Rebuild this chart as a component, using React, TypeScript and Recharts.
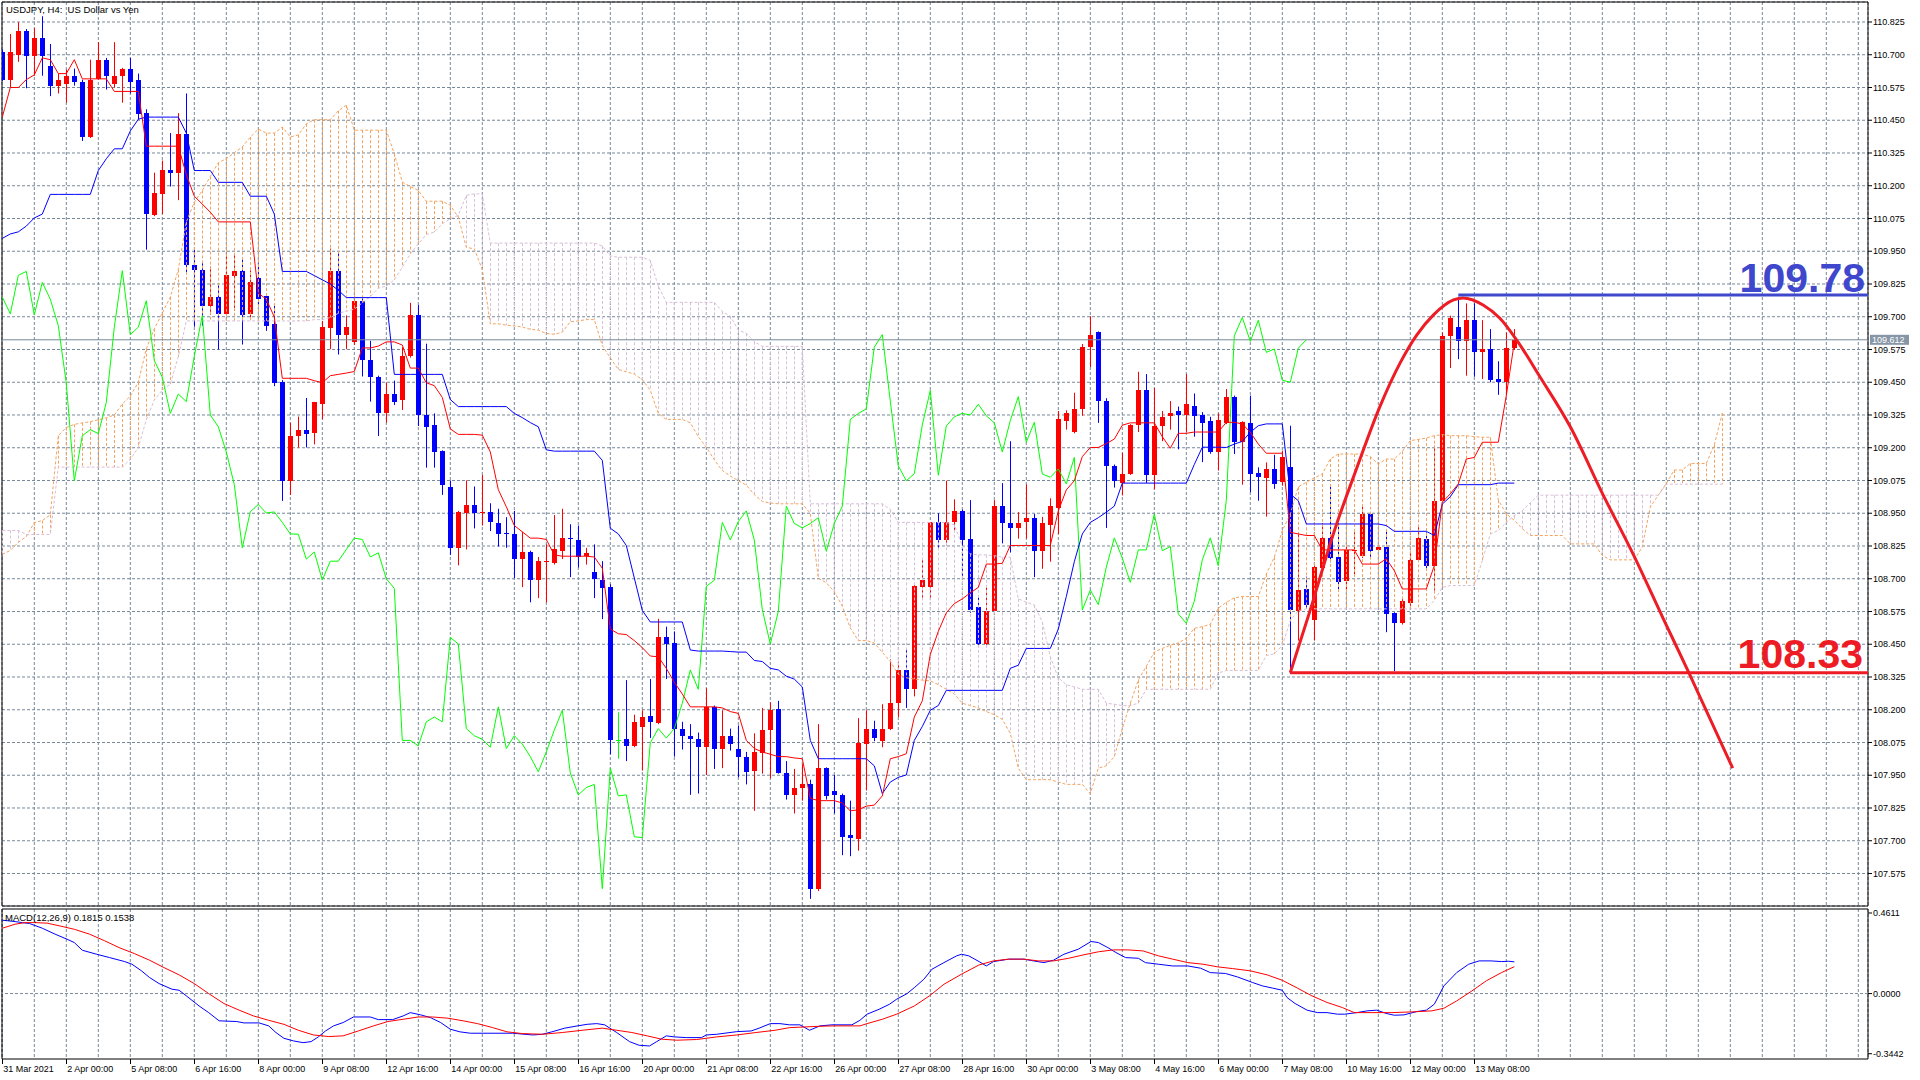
import React from "react";
import {
  Bar,
  CartesianGrid,
  ComposedChart,
  Line,
  ReferenceArea,
  ReferenceLine,
  XAxis,
  YAxis,
} from "recharts";

// USDJPY H4 candles, bar index 0 = 31 Mar 2021
const open = [
  110.711, 110.605, 110.699, 110.789, 110.696, 110.764, 110.658, 110.582, 110.59, 110.62,
  110.597, 110.386, 110.608, 110.681, 110.587, 110.617, 110.647, 110.602, 110.477, 110.089,
  110.17, 110.261, 110.247, 110.398, 109.899, 109.88, 109.742, 109.775, 109.711, 109.855,
  109.873, 109.711, 109.846, 109.778, 109.672, 109.45, 109.073, 109.246, 109.269, 109.256,
  109.368, 109.657, 109.876, 109.632, 109.604, 109.761, 109.533, 109.469, 109.331, 109.405,
  109.384, 109.549, 109.705, 109.325, 109.288, 109.187, 109.052, 108.818, 108.951, 108.983,
  108.95, 108.956, 108.911, 108.876, 108.871, 108.775, 108.802, 108.695, 108.763, 108.759,
  108.807, 108.857, 108.847, 108.786, 108.727, 108.695, 108.668, 108.083, 108.087, 108.062,
  108.136, 108.175, 108.151, 108.476, 108.455, 108.128, 108.101, 108.087, 108.057, 108.211,
  108.052, 108.101, 108.052, 108.021, 107.968, 108.034, 108.122, 108.204, 107.959, 107.875,
  107.903, 107.915, 107.514, 107.977, 107.889, 107.875, 107.721, 107.708, 108.069, 108.128,
  108.08, 108.128, 108.225, 108.352, 108.278, 108.667, 108.667, 108.915, 108.848, 108.918,
  108.959, 108.853, 108.593, 108.451, 108.575, 108.977, 108.911, 108.894, 108.918, 108.933,
  108.805, 108.906, 108.971, 109.301, 109.26, 109.348, 109.584, 109.64, 109.378, 109.131,
  109.065, 109.101, 109.287, 109.419, 109.095, 109.283, 109.322, 109.34, 109.325, 109.361,
  109.325, 109.301, 109.184, 109.293, 109.395, 109.221, 109.293, 109.102, 109.085, 109.119,
  109.068, 109.125, 108.578, 108.661, 108.543, 108.741, 108.856, 108.784, 108.69, 108.807,
  108.788, 108.947, 108.81, 108.823, 108.568, 108.53, 108.606, 108.772, 108.852, 108.75,
  108.998, 109.627, 109.662, 109.606, 109.687, 109.564, 109.577, 109.462, 109.45, 109.58,
];
const high = [
  110.72, 110.779, 110.824, 110.798, 110.801, 110.847, 110.741, 110.628, 110.643, 110.647,
  110.605, 110.681, 110.748, 110.688, 110.748, 110.65, 110.688, 110.628, 110.492, 110.25,
  110.296, 110.401, 110.477, 110.552, 109.956, 109.911, 109.892, 109.828, 109.941, 109.941,
  109.926, 109.877, 109.903, 109.79, 109.745, 109.458, 109.295, 109.319, 109.39, 109.375,
  109.684, 109.96, 109.95, 109.705, 109.765, 109.77, 109.608, 109.475, 109.448, 109.456,
  109.584, 109.753, 109.745, 109.597, 109.331, 109.19, 109.075, 108.959, 109.075, 109.052,
  109.096, 108.988, 108.967, 108.935, 108.959, 108.879, 108.807, 108.783, 108.831, 108.943,
  108.967, 108.908, 108.903, 108.818, 108.831, 108.767, 108.679, 108.19, 108.313, 108.181,
  108.198, 108.317, 108.547, 108.517, 108.499, 108.154, 108.145, 108.113, 108.282, 108.216,
  108.198, 108.128, 108.14, 108.039, 108.11, 108.207, 108.228, 108.234, 108.004, 107.974,
  107.991, 107.933, 108.145, 107.98, 107.951, 107.88, 107.853, 108.168, 108.198, 108.158,
  108.221, 108.393, 108.384, 108.428, 108.676, 108.773, 108.915, 108.95, 109.074, 109.003,
  108.964, 109.0, 108.632, 108.667, 109.0, 109.065, 109.225, 108.954, 109.06, 108.947,
  108.936, 109.007, 109.34, 109.343, 109.41, 109.596, 109.702, 109.644, 109.389, 109.136,
  109.18, 109.29, 109.49, 109.481, 109.428, 109.34, 109.378, 109.357, 109.481, 109.407,
  109.336, 109.318, 109.331, 109.424, 109.399, 109.301, 109.399, 109.125, 109.144, 109.173,
  109.189, 109.284, 108.877, 108.708, 108.754, 108.912, 109.051, 108.912, 108.833, 108.877,
  108.979, 108.954, 108.825, 108.89, 108.572, 108.623, 108.807, 108.899, 108.877, 109.208,
  109.64, 109.704, 109.776, 109.751, 109.751, 109.687, 109.653, 109.53, 109.64, 109.653,
];
const low = [
  110.6, 110.575, 110.673, 110.572, 110.62, 110.62, 110.542, 110.552, 110.517, 110.582,
  110.371, 110.382, 110.605, 110.567, 110.575, 110.517, 110.552, 110.454, 109.956, 110.084,
  110.092, 110.197, 110.145, 109.865, 109.662, 109.666, 109.707, 109.575, 109.708, 109.722,
  109.594, 109.687, 109.745, 109.646, 109.435, 108.997, 109.02, 109.201, 109.201, 109.213,
  109.309, 109.576, 109.556, 109.576, 109.592, 109.472, 109.376, 109.245, 109.296, 109.363,
  109.344, 109.544, 109.283, 109.124, 109.124, 109.02, 108.791, 108.751, 108.812, 108.892,
  108.903, 108.882, 108.823, 108.818, 108.703, 108.668, 108.61, 108.626, 108.61, 108.754,
  108.775, 108.706, 108.743, 108.754, 108.626, 108.546, 108.03, 108.013, 108.004, 108.057,
  107.968, 108.092, 108.145, 108.317, 108.021, 108.048, 107.875, 107.88, 107.951, 107.974,
  107.977, 108.044, 107.942, 107.915, 107.814, 107.956, 107.938, 107.956, 107.857, 107.804,
  107.853, 107.478, 107.508, 107.857, 107.804, 107.645, 107.641, 107.662, 107.892, 108.08,
  108.057, 108.122, 108.172, 108.207, 108.251, 108.623, 108.623, 108.818, 108.827, 108.88,
  108.706, 108.57, 108.446, 108.441, 108.57, 108.835, 108.8, 108.853, 108.853, 108.706,
  108.738, 108.765, 108.871, 109.269, 109.255, 109.322, 109.508, 109.295, 108.894, 109.048,
  109.018, 109.096, 109.26, 109.065, 109.042, 109.225, 109.269, 109.194, 109.26, 109.242,
  109.145, 109.177, 109.113, 109.29, 109.176, 109.059, 109.03, 108.998, 108.937, 109.043,
  109.055, 108.337, 108.464, 108.585, 108.464, 108.737, 108.763, 108.652, 108.655, 108.718,
  108.779, 108.782, 108.807, 108.496, 108.347, 108.525, 108.585, 108.769, 108.731, 108.655,
  108.992, 109.504, 109.538, 109.475, 109.471, 109.462, 109.45, 109.402, 109.399, 109.573,
];
const close = [
  110.605, 110.711, 110.789, 110.696, 110.764, 110.696, 110.582, 110.602, 110.62, 110.597,
  110.386, 110.605, 110.681, 110.617, 110.62, 110.647, 110.597, 110.472, 110.092, 110.172,
  110.261, 110.247, 110.398, 109.899, 109.877, 109.742, 109.775, 109.711, 109.858, 109.873,
  109.707, 109.831, 109.767, 109.666, 109.446, 109.073, 109.246, 109.269, 109.254, 109.373,
  109.66, 109.876, 109.632, 109.66, 109.761, 109.533, 109.469, 109.331, 109.405, 109.376,
  109.549, 109.705, 109.325, 109.28, 109.184, 109.059, 108.818, 108.956, 108.983, 108.951,
  108.955, 108.915, 108.871, 108.87, 108.775, 108.802, 108.695, 108.767, 108.767, 108.812,
  108.855, 108.85, 108.783, 108.799, 108.7, 108.663, 108.083, 108.083, 108.062, 108.154,
  108.172, 108.154, 108.476, 108.451, 108.128, 108.101, 108.087, 108.057, 108.211, 108.052,
  108.101, 108.069, 108.021, 107.963, 108.039, 108.122, 108.198, 107.959, 107.875, 107.903,
  107.915, 107.517, 107.977, 107.871, 107.875, 107.715, 107.712, 108.074, 108.128, 108.092,
  108.128, 108.225, 108.352, 108.278, 108.671, 108.694, 108.915, 108.848, 108.918, 108.959,
  108.848, 108.582, 108.451, 108.575, 108.977, 108.911, 108.894, 108.911, 108.933, 108.805,
  108.911, 108.977, 109.308, 109.331, 109.348, 109.584, 109.632, 109.378, 109.131, 109.074,
  109.101, 109.287, 109.419, 109.095, 109.283, 109.318, 109.331, 109.325, 109.366, 109.322,
  109.295, 109.184, 109.304, 109.395, 109.221, 109.297, 109.1, 109.087, 109.119, 109.062,
  109.163, 108.581, 108.657, 108.601, 108.744, 108.856, 108.779, 108.686, 108.81, 108.81,
  108.947, 108.807, 108.823, 108.566, 108.53, 108.614, 108.772, 108.856, 108.75, 108.998,
  109.627, 109.697, 109.606, 109.687, 109.564, 109.577, 109.458, 109.45, 109.58, 109.612,
];

// Ichimoku lines as drawn
const tenkan = [
  110.462, 110.575, 110.575, 110.605, 110.623, 110.688, 110.681, 110.628, 110.628, 110.681,
  110.608, 110.608, 110.608, 110.608, 110.56, 110.56, 110.56, 110.56, 110.351, 110.351,
  110.351, 110.351, 110.351, 110.243, 110.16, 110.13, 110.099, 110.062, 110.062, 110.062,
  110.062, 110.062, 109.79, 109.767, 109.699, 109.465, 109.465, 109.465, 109.465, 109.456,
  109.448, 109.475, 109.48, 109.485, 109.491, 109.581, 109.581, 109.588, 109.604, 109.604,
  109.592, 109.504, 109.504, 109.448, 109.437, 109.392, 109.272, 109.251, 109.251, 109.251,
  109.248, 109.184, 109.04, 108.975, 108.903, 108.879, 108.855, 108.855, 108.85, 108.791,
  108.786, 108.786, 108.786, 108.786, 108.783, 108.74, 108.508, 108.49, 108.487, 108.464,
  108.437, 108.405, 108.402, 108.358, 108.305, 108.26, 108.211, 108.211, 108.211, 108.211,
  108.207, 108.193, 108.186, 108.083, 108.052, 108.039, 108.03, 108.021, 108.021, 108.016,
  108.013, 107.862, 107.853, 107.853, 107.853, 107.844, 107.814, 107.818, 107.832, 107.836,
  107.871, 108.013, 108.021, 108.032, 108.172, 108.234, 108.411, 108.499, 108.57, 108.605,
  108.623, 108.646, 108.667, 108.756, 108.756, 108.759, 108.827, 108.827, 108.827, 108.827,
  108.827, 108.827, 108.959, 109.039, 109.074, 109.166, 109.201, 109.201, 109.216, 109.233,
  109.286, 109.295, 109.295, 109.295, 109.295, 109.242, 109.198, 109.255, 109.255, 109.26,
  109.26, 109.26, 109.26, 109.297, 109.297, 109.291, 109.259, 109.214, 109.179, 109.179,
  109.179, 108.877, 108.871, 108.865, 108.865, 108.81, 108.81, 108.81, 108.81, 108.81,
  108.756, 108.756, 108.756, 108.776, 108.731, 108.661, 108.661, 108.661, 108.661, 108.75,
  108.992, 109.024, 109.062, 109.157, 109.163, 109.221, 109.221, 109.221, 109.399, 109.602,
];
const kijun = [
  109.999, 110.016, 110.024, 110.046, 110.077, 110.092, 110.167, 110.167, 110.167, 110.167,
  110.167, 110.167, 110.258, 110.303, 110.341, 110.341, 110.409, 110.454, 110.462, 110.462,
  110.462, 110.462, 110.462, 110.401, 110.258, 110.258, 110.258, 110.213, 110.213, 110.213,
  110.213, 110.16, 110.16, 110.16, 110.092, 109.873, 109.873, 109.873, 109.873, 109.857,
  109.841, 109.825, 109.801, 109.773, 109.773, 109.773, 109.773, 109.773, 109.773, 109.48,
  109.48, 109.48, 109.48, 109.48, 109.48, 109.48, 109.384, 109.357, 109.357, 109.357,
  109.357, 109.357, 109.357, 109.357, 109.331, 109.315, 109.296, 109.28, 109.192, 109.187,
  109.187, 109.187, 109.187, 109.187, 109.187, 109.152, 108.893, 108.871, 108.827, 108.703,
  108.579, 108.535, 108.535, 108.535, 108.535, 108.535, 108.428, 108.424, 108.424, 108.424,
  108.424, 108.422, 108.42, 108.42, 108.388, 108.384, 108.358, 108.352, 108.328, 108.317,
  108.287, 108.083, 108.013, 108.013, 108.013, 108.013, 108.013, 108.013, 108.013, 107.986,
  107.88, 107.924, 107.942, 107.951, 108.083, 108.136, 108.198, 108.216, 108.274, 108.274,
  108.274, 108.274, 108.274, 108.274, 108.274, 108.274, 108.358, 108.37, 108.434, 108.434,
  108.434, 108.434, 108.508, 108.632, 108.765, 108.871, 108.915, 108.933, 108.954, 108.977,
  109.065, 109.065, 109.065, 109.065, 109.065, 109.065, 109.065, 109.065, 109.065, 109.136,
  109.202, 109.202, 109.202, 109.201, 109.214, 109.224, 109.259, 109.284, 109.291, 109.291,
  109.291, 109.023, 108.998, 108.909, 108.909, 108.909, 108.909, 108.909, 108.909, 108.909,
  108.909, 108.909, 108.909, 108.903, 108.881, 108.881, 108.881, 108.881, 108.881, 108.865,
  108.985, 109.013, 109.059, 109.059, 109.059, 109.059, 109.059, 109.065, 109.065, 109.065,
];
// Senkou spans run 26 bars past the last candle
const spanA = [
  108.793, 108.808, 108.839, 108.861, 108.914, 108.922, 108.944, 109.246, 109.277, 109.289,
  109.295, 109.299, 109.307, 109.314, 109.325, 109.367, 109.397, 109.45, 109.578, 109.654,
  109.714, 109.775, 109.88, 110.062, 110.137, 110.182, 110.235, 110.288, 110.303, 110.326,
  110.348, 110.386, 110.416, 110.401, 110.401, 110.424, 110.386, 110.394, 110.436, 110.452,
  110.452, 110.452, 110.486, 110.507, 110.412, 110.412, 110.412, 110.412, 110.412, 110.322,
  110.214, 110.197, 110.182, 110.141, 110.141, 110.141, 110.125, 110.08, 109.965, 109.959,
  109.88, 109.673, 109.673, 109.668, 109.665, 109.661, 109.652, 109.649, 109.636, 109.633,
  109.641, 109.681, 109.684, 109.689, 109.689, 109.59, 109.543, 109.499, 109.49, 109.481,
  109.46, 109.419, 109.331, 109.308, 109.308, 109.308, 109.295, 109.242, 109.202, 109.154,
  109.113, 109.092, 109.074, 109.057, 109.021, 108.995, 108.989, 108.986, 108.986, 108.986,
  108.986, 108.95, 108.702, 108.685, 108.65, 108.596, 108.512, 108.464, 108.464, 108.455,
  108.419, 108.384, 108.335, 108.322, 108.317, 108.313, 108.31, 108.296, 108.278, 108.26,
  108.225, 108.216, 108.207, 108.193, 108.181, 108.163, 108.11, 107.977, 107.933, 107.933,
  107.933, 107.933, 107.924, 107.915, 107.915, 107.915, 107.88, 107.977, 107.986, 108.021,
  108.128, 108.225, 108.313, 108.366, 108.42, 108.434, 108.446, 108.455, 108.472, 108.511,
  108.517, 108.526, 108.588, 108.61, 108.627, 108.632, 108.632, 108.632, 108.718, 108.782,
  108.884, 108.947, 109.051, 109.068, 109.085, 109.1, 109.157, 109.176, 109.176, 109.176,
  109.176, 109.166, 109.138, 109.157, 109.157, 109.186, 109.227, 109.232, 109.237, 109.246,
  109.25, 109.246, 109.246, 109.246, 109.242, 109.24, 109.24, 109.0, 108.948, 108.923,
  108.891, 108.865, 108.865, 108.865, 108.865, 108.865, 108.833, 108.833, 108.833, 108.833,
  108.789, 108.772, 108.772, 108.772, 108.772, 108.821, 108.974, 109.019, 109.064, 109.115,
  109.115, 109.14, 109.14, 109.14, 109.211, 109.332,
];
const spanB = [
  108.884, 108.884, 108.884, 108.869, 108.869, 108.869, 108.869, 109.126, 109.126, 109.126,
  109.126, 109.126, 109.126, 109.126, 109.126, 109.126, 109.156, 109.201, 109.307, 109.382,
  109.42, 109.443, 109.548, 109.684, 109.684, 109.684, 109.684, 109.684, 109.684, 109.684,
  109.684, 109.684, 109.684, 109.684, 109.684, 109.684, 109.684, 109.684, 109.684, 109.689,
  109.689, 109.697, 109.713, 109.721, 109.729, 109.753, 109.777, 109.809, 109.817, 109.841,
  109.889, 109.94, 109.978, 110.014, 110.023, 110.055, 110.074, 110.087, 110.163, 110.169,
  110.169, 109.981, 109.981, 109.981, 109.981, 109.981, 109.981, 109.981, 109.981, 109.981,
  109.981, 109.981, 109.981, 109.981, 109.981, 109.97, 109.932, 109.927, 109.927, 109.927,
  109.927, 109.915, 109.817, 109.755, 109.755, 109.755, 109.755, 109.755, 109.755, 109.755,
  109.72, 109.702, 109.649, 109.637, 109.605, 109.587, 109.587, 109.587, 109.587, 109.587,
  109.587, 108.986, 108.986, 108.986, 108.986, 108.986, 108.986, 108.986, 108.986, 108.986,
  108.986, 108.964, 108.915, 108.915, 108.915, 108.915, 108.915, 108.915, 108.915, 108.906,
  108.826, 108.795, 108.791, 108.791, 108.788, 108.782, 108.782, 108.623, 108.611, 108.6,
  108.535, 108.402, 108.322, 108.296, 108.287, 108.278, 108.278, 108.278, 108.225, 108.221,
  108.216, 108.216, 108.225, 108.278, 108.278, 108.278, 108.278, 108.278, 108.278, 108.278,
  108.278, 108.278, 108.34, 108.35, 108.35, 108.35, 108.35, 108.35, 108.407, 108.413,
  108.445, 108.54, 108.578, 108.585, 108.585, 108.585, 108.585, 108.585, 108.585, 108.585,
  108.585, 108.585, 108.585, 108.585, 108.585, 108.585, 108.585, 108.585, 108.585, 108.617,
  108.667, 108.674, 108.674, 108.674, 108.674, 108.769, 108.871, 108.884, 108.915, 108.941,
  108.96, 108.99, 109.019, 109.019, 109.019, 109.019, 109.019, 109.019, 109.019, 109.019,
  109.019, 109.019, 109.019, 109.019, 109.019, 109.019, 109.019, 109.019, 109.061, 109.061,
  109.061, 109.061, 109.061, 109.061, 109.061, 109.061,
];

// MACD(12,26,9): [bar, value] vertices
const macdMain = [
  [0, 0.42], [1.6, 0.412], [2.5, 0.406], [3.4, 0.401], [5.0, 0.374], [6.6, 0.34], [8.1, 0.311],
  [9.0, 0.292], [10.0, 0.248], [11.8, 0.225], [13.4, 0.206], [15.3, 0.183], [16.2, 0.168],
  [17.4, 0.13], [18.4, 0.092], [19.6, 0.057], [21.2, 0.025], [22.1, 0.019], [23.0, -0.013],
  [24.6, -0.071], [25.8, -0.109], [27.1, -0.156], [29.3, -0.16], [30.2, -0.168], [32.1, -0.168],
  [33.3, -0.185], [34.2, -0.223], [35.2, -0.256], [36.4, -0.271], [37.6, -0.281], [38.6, -0.275],
  [39.5, -0.248], [40.4, -0.214], [41.4, -0.185], [42.6, -0.166], [43.9, -0.134], [46.0, -0.134],
  [47.0, -0.149], [48.8, -0.149], [50.1, -0.128], [51.0, -0.109], [52.3, -0.122], [53.5, -0.137],
  [54.8, -0.166], [56.0, -0.204], [57.2, -0.219], [58.5, -0.227], [63.8, -0.227], [66.3, -0.237],
  [67.5, -0.233], [68.7, -0.219], [70.3, -0.198], [71.9, -0.185], [73.1, -0.176], [74.3, -0.172],
  [75.3, -0.179], [76.8, -0.223], [78.4, -0.275], [79.6, -0.296], [80.9, -0.3], [81.8, -0.275],
  [83.0, -0.242], [84.0, -0.248], [85.5, -0.252], [87.4, -0.252], [88.0, -0.237], [89.3, -0.233],
  [91.8, -0.218], [93.6, -0.214], [94.6, -0.198], [96.0, -0.172], [97.2, -0.172], [98.4, -0.179],
  [99.7, -0.179], [100.9, -0.21], [102.2, -0.185], [103.7, -0.179], [106.2, -0.179], [107.2, -0.153],
  [108.1, -0.118], [109.6, -0.09], [110.9, -0.061], [111.8, -0.032], [113.1, 0.0], [114.0, 0.034],
  [115.2, 0.082], [116.2, 0.139], [117.7, 0.177], [119.3, 0.216], [119.9, 0.225], [120.8, 0.216],
  [122.1, 0.183], [123.0, 0.158], [123.9, 0.183], [125.8, 0.197], [127.7, 0.197], [128.9, 0.187],
  [130.2, 0.177], [131.4, 0.191], [132.7, 0.225], [134.5, 0.254], [136.1, 0.298], [137.0, 0.292],
  [138.2, 0.263], [139.2, 0.235], [140.4, 0.206], [142.0, 0.202], [142.9, 0.177], [144.5, 0.168],
  [146.3, 0.158], [148.2, 0.158], [149.8, 0.145], [151.0, 0.12], [152.9, 0.115], [154.4, 0.095],
  [156.3, 0.063], [157.5, 0.044], [158.8, 0.031], [160.0, 0.019], [160.6, -0.023], [161.6, -0.057],
  [163.1, -0.095], [164.4, -0.109], [165.6, -0.109], [166.9, -0.118], [167.8, -0.118], [169.3, -0.109],
  [170.6, -0.099], [171.8, -0.095], [173.1, -0.115], [174.0, -0.124], [175.2, -0.122], [176.8, -0.103],
  [178.0, -0.095], [179.0, -0.061], [180.2, 0.044], [181.8, 0.12], [183.3, 0.168], [184.6, 0.187],
  [186.1, 0.187], [187.4, 0.183], [188.3, 0.185], [189, 0.1815],
];
const macdSignal = [
  [0, 0.374], [1.6, 0.397], [2.8, 0.406], [4.1, 0.406], [5.6, 0.403], [7.2, 0.387], [9.0, 0.368],
  [10.9, 0.34], [12.8, 0.302], [14.6, 0.263], [16.5, 0.229], [18.4, 0.191], [20.2, 0.149],
  [22.1, 0.107], [24.0, 0.057], [25.8, 0.0], [27.7, -0.057], [29.6, -0.095], [31.4, -0.128],
  [33.3, -0.153], [35.2, -0.176], [37.0, -0.21], [38.9, -0.237], [40.8, -0.246], [42.6, -0.242],
  [44.5, -0.214], [46.4, -0.185], [48.2, -0.16], [50.1, -0.147], [52.0, -0.134], [53.8, -0.134],
  [55.7, -0.141], [57.6, -0.156], [59.4, -0.172], [61.3, -0.195], [63.1, -0.219], [65.0, -0.229],
  [67.5, -0.233], [70.0, -0.223], [72.5, -0.21], [75.0, -0.198], [76.8, -0.21], [78.7, -0.223],
  [80.6, -0.242], [82.4, -0.261], [84.3, -0.267], [86.8, -0.263], [89.3, -0.248], [91.8, -0.237],
  [94.2, -0.223], [96.6, -0.21], [98.4, -0.195], [100.3, -0.191], [102.2, -0.187], [104.0, -0.185],
  [107.2, -0.185], [108.1, -0.172], [110.0, -0.147], [111.8, -0.118], [114.0, -0.071], [115.9, -0.013],
  [117.7, 0.053], [119.9, 0.111], [122.1, 0.164], [123.9, 0.187], [125.8, 0.197], [127.7, 0.197],
  [129.5, 0.187], [131.4, 0.187], [133.3, 0.202], [135.1, 0.221], [137.0, 0.239], [138.9, 0.25],
  [140.7, 0.25], [142.6, 0.244], [144.5, 0.216], [146.3, 0.197], [148.2, 0.177], [150.1, 0.168],
  [151.9, 0.153], [153.8, 0.143], [156.0, 0.13], [158.1, 0.107], [160.0, 0.076], [161.9, 0.031],
  [163.7, -0.013], [165.6, -0.051], [167.5, -0.08], [169.0, -0.109], [171.2, -0.109], [173.7, -0.109],
  [176.2, -0.105], [178.7, -0.099], [180.2, -0.084], [181.8, -0.042], [183.7, 0.015], [185.5, 0.073],
  [187.4, 0.12], [189, 0.1538],
];

// hand-drawn arc: [bar, price]
const arcPoints = [
  [161.0, 108.341], [163.5, 108.581], [166.4, 108.873], [169.3, 109.122], [172.2, 109.357],
  [174.7, 109.522], [176.8, 109.63], [178.9, 109.707], [181.4, 109.764], [182.6, 109.772],
  [185.1, 109.745], [187.2, 109.694], [189.3, 109.611], [192.2, 109.471], [196.0, 109.28],
  [200.1, 109.02], [203.9, 108.791], [207.6, 108.549], [210.8, 108.343], [216.3, 107.977],
];

const xLabels = [
  "31 Mar 2021", "2 Apr 00:00", "5 Apr 08:00", "6 Apr 16:00", "8 Apr 00:00", "9 Apr 08:00",
  "12 Apr 16:00", "14 Apr 00:00", "15 Apr 08:00", "16 Apr 16:00", "20 Apr 00:00", "21 Apr 08:00",
  "22 Apr 16:00", "26 Apr 00:00", "27 Apr 08:00", "28 Apr 16:00", "30 Apr 00:00", "3 May 08:00",
  "4 May 16:00", "6 May 00:00", "7 May 08:00", "10 May 16:00", "12 May 00:00", "13 May 08:00",
];
const priceTicks = [
  107.575, 107.7, 107.825, 107.95, 108.075, 108.2, 108.325, 108.45, 108.575, 108.7, 108.825,
  108.95, 109.075, 109.2, 109.325, 109.45, 109.575, 109.7, 109.825, 109.95, 110.075, 110.2,
  110.325, 110.45, 110.575, 110.7, 110.825,
];
const macdTicks = [0.4611, 0, -0.3442];

const lastPrice = 109.612;
const resistance = { value: 109.783, from: 182, label: "109.78" };
const support = { value: 108.341, from: 161, label: "108.33" };

const CHIKOU_SHIFT = 26;
const LABEL_STEP = 8;
const GRID_STEP = 4;
const X_DOMAIN: [number, number] = [-0.0375, 233.2125];
const PRICE_DOMAIN: [number, number] = [107.4509, 110.9013];
const MACD_DOMAIN: [number, number] = [-0.3745, 0.484];

const FONT = "'Liberation Sans', Arial, sans-serif";
const GRID = "#778899";
const UP = "#ff0000";
const DOWN = "#0000ff";
const DOJI = "#00ff00";
const SENKOU_A = "#f4a460";
const SENKOU_B = "#d8bfd8";

const gridTicks = Array.from({ length: Math.floor(X_DOMAIN[1] / GRID_STEP) + 1 }, (_, i) => i * GRID_STEP);

const rows = spanA.map((a, k) => {
  const b = spanB[k];
  const has = k < close.length;
  return {
    k,
    span: has
      ? [Math.min(low[k], a, b), Math.max(high[k], a, b)]
      : [Math.min(a, b), Math.max(a, b)],
    o: has ? open[k] : undefined,
    h: has ? high[k] : undefined,
    l: has ? low[k] : undefined,
    c: has ? close[k] : undefined,
    tenkan: has ? tenkan[k] : undefined,
    kijun: has ? kijun[k] : undefined,
    chikou: k + CHIKOU_SHIFT < close.length ? close[k + CHIKOU_SHIFT] : undefined,
    spanA: a,
    spanB: b,
  };
});

const macdRows = macdMain.map(([k, v]) => ({ k, v }));
const signalRows = macdSignal.map(([k, v]) => ({ k, v }));
const arcRows = arcPoints.map(([k, p]) => ({ k, p }));

// one bar per index: candle plus the cloud hatch, using the bar's own scale
function CandleCloud(props: any) {
  const { x, y, width, height, payload } = props;
  if (!payload || !height) return <g />;
  const [lo, hi] = payload.span;
  if (hi <= lo) return <g />;
  const top = Math.min(y, y + height);
  const unit = Math.abs(height) / (hi - lo);
  const py = (p: number) => top + (hi - p) * unit;
  const cx = Math.floor(x + width / 2) + 0.5;
  const parts: React.ReactNode[] = [];

  if (payload.o !== undefined) {
    const { o, h, l, c } = payload;
    const color = c > o ? UP : c < o ? DOWN : DOJI;
    parts.push(<line key="w" x1={cx} x2={cx} y1={py(h)} y2={py(l)} stroke={color} strokeWidth={1} />);
    const y1 = Math.round(py(Math.max(o, c)));
    const y2 = Math.round(py(Math.min(o, c)));
    if (y2 - y1 >= 1) {
      parts.push(<rect key="b" x={cx - 2.5} y={y1} width={5} height={y2 - y1} fill={color} />);
    } else {
      parts.push(<line key="b" x1={cx - 2.5} x2={cx + 2.5} y1={y1 + 0.5} y2={y1 + 0.5} stroke={color} />);
    }
  }

  const a = payload.spanA;
  const b = payload.spanB;
  if (a !== b) {
    parts.push(
      <line
        key="c"
        x1={cx}
        x2={cx}
        y1={py(Math.max(a, b))}
        y2={py(Math.min(a, b))}
        stroke={a > b ? SENKOU_A : SENKOU_B}
        strokeWidth={1}
        strokeDasharray="3 2"
      />
    );
  }
  return <g>{parts}</g>;
}

function PriceTag({ viewBox }: any) {
  if (!viewBox) return null;
  const x = viewBox.x + viewBox.width + 2;
  const y = viewBox.y;
  return (
    <g>
      <rect x={x} y={y - 5} width={39} height={10} fill="#8796a6" />
      <text x={x + 2} y={y + 3.5} fill="#fff" fontSize={9} fontFamily={FONT}>
        {lastPrice.toFixed(3)}
      </text>
    </g>
  );
}

function TimeTick({ x, y, payload }: any) {
  const i = payload.value / LABEL_STEP;
  if (!Number.isInteger(i) || i >= xLabels.length) return <g />;
  const tx = Math.floor(x) + 0.5;
  return (
    <g>
      <line x1={tx} x2={tx} y1={y} y2={y + 5} stroke="#000" />
      <text x={x + 1} y={y + 13} fontSize={9} fontFamily={FONT} fill="#000">
        {xLabels[i]}
      </text>
    </g>
  );
}

const bigLabel = (value: string, fill: string, offset: number) => ({
  value,
  position: "insideBottomRight" as const,
  offset,
  fill,
  fontSize: 41,
  fontWeight: 700,
  fontFamily: FONT,
});

export default function App() {
  return (
    <div style={{ position: "relative", width: 1920, height: 1080, background: "#fff", overflow: "hidden", fontFamily: FONT }}>
      <style>{"body{margin:0}"}</style>

      <ComposedChart width={1920} height={908} data={rows} margin={{ top: 2, right: 0, bottom: 2, left: 2 }}>
        <CartesianGrid stroke={GRID} strokeDasharray="3 2" />
        <XAxis dataKey="k" type="number" domain={X_DOMAIN} ticks={gridTicks} allowDataOverflow hide />
        <YAxis
          orientation="right"
          width={52}
          type="number"
          domain={PRICE_DOMAIN}
          ticks={priceTicks}
          interval={0}
          allowDataOverflow
          axisLine={false}
          tickLine={{ stroke: "#000" }}
          tickSize={4}
          tickMargin={1}
          tick={{ fontSize: 9, fill: "#000", fontFamily: FONT }}
          tickFormatter={(v: number) => v.toFixed(3)}
        />
        <ReferenceLine
          y={lastPrice}
          stroke={GRID}
          strokeWidth={1}
          label={{ content: (p: any) => <PriceTag viewBox={p.viewBox} /> }}
        />
        <Bar dataKey="span" barSize={5} shape={(p: any) => <CandleCloud {...p} />} isAnimationActive={false} />
        <Line dataKey="spanA" type="linear" stroke={SENKOU_A} strokeDasharray="3 2" dot={false} activeDot={false} isAnimationActive={false} />
        <Line dataKey="spanB" type="linear" stroke={SENKOU_B} strokeDasharray="3 2" dot={false} activeDot={false} isAnimationActive={false} />
        <Line dataKey="chikou" type="linear" stroke="#00ff00" strokeWidth={1} dot={false} activeDot={false} isAnimationActive={false} />
        <Line dataKey="kijun" type="linear" stroke="#0000ff" strokeWidth={1} dot={false} activeDot={false} isAnimationActive={false} />
        <Line dataKey="tenkan" type="linear" stroke="#ff0000" strokeWidth={1} dot={false} activeDot={false} isAnimationActive={false} />
        <Line data={arcRows} dataKey="p" type="monotone" stroke="#ee1c25" strokeWidth={3} dot={false} activeDot={false} isAnimationActive={false} />
        <ReferenceLine
          segment={[{ x: resistance.from, y: resistance.value }, { x: X_DOMAIN[1], y: resistance.value }]}
          stroke="#3f48cc"
          strokeWidth={3}
          ifOverflow="visible"
          label={bigLabel(resistance.label, "#3f48cc", 3)}
        />
        <ReferenceLine
          segment={[{ x: support.from, y: support.value }, { x: X_DOMAIN[1], y: support.value }]}
          stroke="#ed1c24"
          strokeWidth={3}
          ifOverflow="visible"
          label={bigLabel(support.label, "#ed1c24", 5)}
        />
        <ReferenceArea
          x1={X_DOMAIN[0]}
          x2={X_DOMAIN[1]}
          y1={PRICE_DOMAIN[0]}
          y2={PRICE_DOMAIN[1]}
          fill="none"
          stroke="#000"
          strokeWidth={1}
          ifOverflow="visible"
        />
      </ComposedChart>

      <div style={{ position: "absolute", left: 6, top: 4, fontSize: 9.5, whiteSpace: "pre", color: "#000" }}>
        {"USDJPY, H4:  US Dollar vs Yen"}
      </div>

      <div style={{ position: "absolute", left: 0, top: 908 }}>
        <ComposedChart width={1920} height={171} margin={{ top: 1, right: 0, bottom: 0, left: 2 }}>
          <CartesianGrid horizontal={false} stroke={GRID} strokeDasharray="3 2" />
          <XAxis
            dataKey="k"
            type="number"
            domain={X_DOMAIN}
            ticks={gridTicks}
            interval={0}
            allowDataOverflow
            height={20}
            axisLine={false}
            tickLine={false}
            tickSize={0}
            tickMargin={0}
            tick={(p: any) => <TimeTick {...p} />}
          />
          <YAxis
            orientation="right"
            width={52}
            type="number"
            domain={MACD_DOMAIN}
            ticks={macdTicks}
            interval={0}
            allowDataOverflow
            axisLine={false}
            tickLine={{ stroke: "#000" }}
            tickSize={4}
            tickMargin={1}
            tick={{ fontSize: 9, fill: "#000", fontFamily: FONT }}
            tickFormatter={(v: number) => v.toFixed(4)}
          />
          <ReferenceLine y={0} stroke={GRID} strokeDasharray="3 2" />
          <Line data={macdRows} dataKey="v" type="linear" stroke="#0000ff" strokeWidth={1} dot={false} activeDot={false} isAnimationActive={false} />
          <Line data={signalRows} dataKey="v" type="linear" stroke="#ff0000" strokeWidth={1} dot={false} activeDot={false} isAnimationActive={false} />
          <ReferenceArea
            x1={X_DOMAIN[0]}
            x2={X_DOMAIN[1]}
            y1={MACD_DOMAIN[0]}
            y2={MACD_DOMAIN[1]}
            fill="none"
            stroke="#000"
            strokeWidth={1}
            ifOverflow="visible"
          />
        </ComposedChart>
      </div>

      <div style={{ position: "absolute", left: 5, top: 912, fontSize: 9.5, whiteSpace: "pre", color: "#000" }}>
        {"MACD(12,26,9) 0.1815 0.1538"}
      </div>
    </div>
  );
}
